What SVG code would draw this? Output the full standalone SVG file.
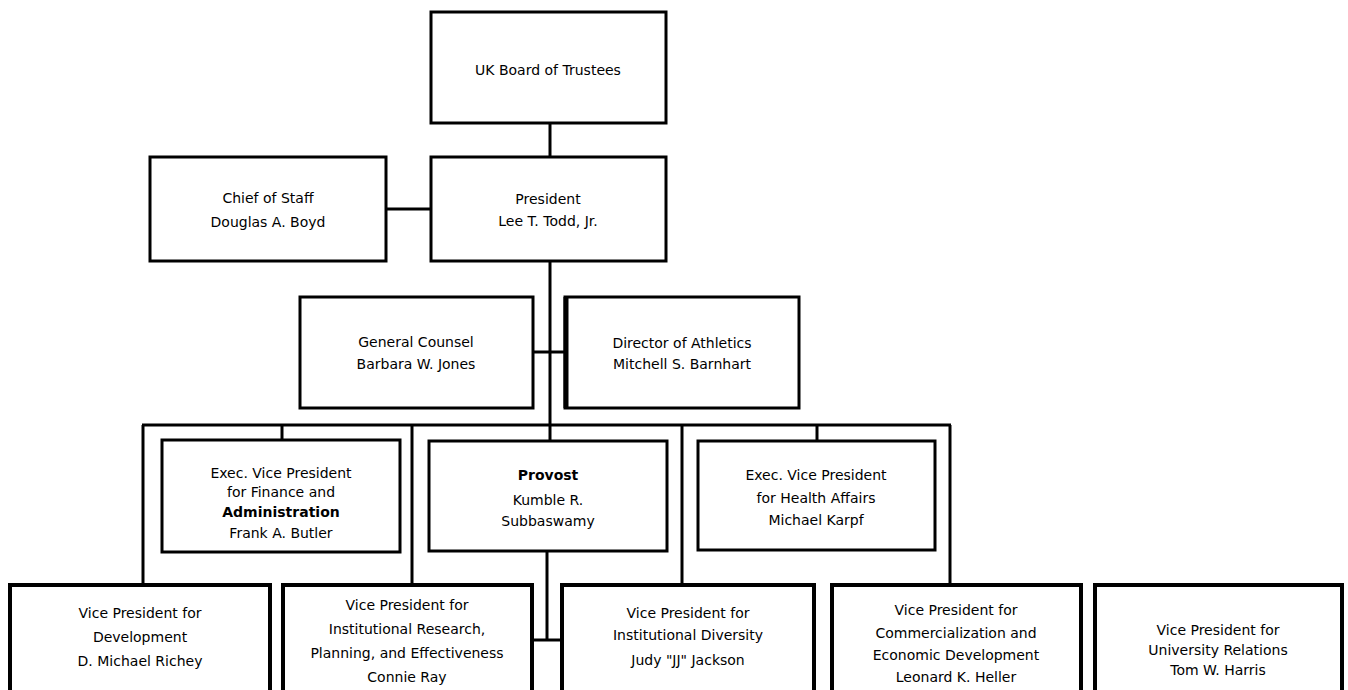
<svg xmlns="http://www.w3.org/2000/svg" width="1348" height="690" viewBox="0 0 1348 690">
<style>
.box{fill:#fff;stroke:#000;stroke-width:3}
.bx{fill:#fff;stroke:#000;stroke-width:4}
.c{stroke:#000;stroke-width:3;fill:none}
text{font-family:"DejaVu Sans","Liberation Sans",sans-serif;font-size:14px;fill:#000;text-anchor:middle}
.b{font-weight:bold}
</style>
<rect width="1348" height="690" fill="#fff"/>
<g id="connectors">
<line class="c" x1="550" y1="123" x2="550" y2="157"/>
<line class="c" x1="550" y1="261" x2="550" y2="441"/>
<line class="c" x1="386" y1="209" x2="431" y2="209"/>
<line class="c" x1="533" y1="352" x2="565" y2="352"/>
<line class="c" x1="142" y1="425" x2="951" y2="425"/>
<line class="c" x1="143" y1="425" x2="143" y2="584"/>
<line class="c" x1="282" y1="425" x2="282" y2="440"/>
<line class="c" x1="412" y1="425" x2="412" y2="584"/>
<line class="c" x1="682" y1="425" x2="682" y2="584"/>
<line class="c" x1="817" y1="425" x2="817" y2="441"/>
<line class="c" x1="950" y1="425" x2="950" y2="584"/>
<line class="c" x1="547" y1="551" x2="547" y2="640"/>
<line class="c" x1="532" y1="640" x2="562" y2="640"/>
</g>
<g id="board"><rect class="box" x="431" y="12" width="235" height="111"/>
<text x="548" y="75">UK Board of Trustees</text></g>
<g id="chief"><rect class="box" x="150" y="157" width="236" height="104"/>
<text x="268" y="203">Chief of Staff</text><text x="268" y="227">Douglas A. Boyd</text></g>
<g id="president"><rect class="box" x="431" y="157" width="235" height="104"/>
<text x="548" y="204">President</text><text x="548" y="226">Lee T. Todd, Jr.</text></g>
<g id="counsel"><rect class="box" x="300" y="297" width="233" height="111"/>
<text x="416" y="347">General Counsel</text><text x="416" y="369">Barbara W. Jones</text></g>
<g id="athletics"><rect class="box" x="565" y="297" width="234" height="111"/>
<line x1="566" y1="297" x2="566" y2="408" stroke="#000" stroke-width="5"/>
<text x="682" y="348">Director of Athletics</text><text x="682" y="369">Mitchell S. Barnhart</text></g>
<g id="finance"><rect class="box" x="162" y="440" width="238" height="112"/>
<text x="281" y="478">Exec. Vice President</text><text x="281" y="497">for Finance and</text>
<text class="b" x="281" y="517">Administration</text><text x="281" y="538">Frank A. Butler</text></g>
<g id="provost"><rect class="box" x="429" y="441" width="238" height="110"/>
<text class="b" x="548" y="480">Provost</text><text x="548" y="505">Kumble R.</text><text x="548" y="526">Subbaswamy</text></g>
<g id="health"><rect class="box" x="698" y="441" width="237" height="109"/>
<text x="816" y="480">Exec. Vice President</text><text x="816" y="503">for Health Affairs</text><text x="816" y="525">Michael Karpf</text></g>
<g id="development"><rect class="bx" x="10" y="585" width="260" height="120"/>
<text x="140" y="618">Vice President for</text><text x="140" y="642">Development</text><text x="140" y="666">D. Michael Richey</text></g>
<g id="research"><rect class="bx" x="283" y="585" width="249" height="120"/>
<text x="407" y="610">Vice President for</text><text x="407" y="634">Institutional Research,</text>
<text x="407" y="658">Planning, and Effectiveness</text><text x="407" y="682">Connie Ray</text></g>
<g id="diversity"><rect class="bx" x="562" y="585" width="252" height="120"/>
<text x="688" y="618">Vice President for</text><text x="688" y="640">Institutional Diversity</text><text x="688" y="665">Judy "JJ" Jackson</text></g>
<g id="commercialization"><rect class="bx" x="832" y="585" width="249" height="120"/>
<text x="956" y="615">Vice President for</text><text x="956" y="638">Commercialization and</text>
<text x="956" y="660">Economic Development</text><text x="956" y="682">Leonard K. Heller</text></g>
<g id="relations"><rect class="bx" x="1095" y="585" width="247" height="120"/>
<text x="1218" y="635">Vice President for</text><text x="1218" y="655">University Relations</text><text x="1218" y="675">Tom W. Harris</text></g>
</svg>
